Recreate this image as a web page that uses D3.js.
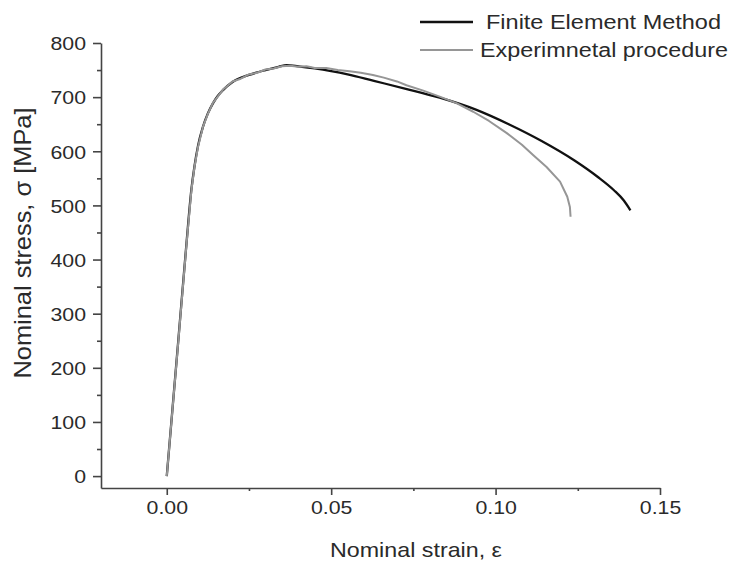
<!DOCTYPE html>
<html>
<head>
<meta charset="utf-8">
<script src="https://cdn.jsdelivr.net/npm/d3@7"></script>
<style>
    body { margin: 0; background: #fff; }
    text { font-family: "Liberation Sans", Arial, sans-serif; fill: #2a2a2a; }
</style>
</head>
<body>
<script>
// FEM curve (strain, stress in MPa)
var femStrain = [0, 0.0035, 0.0060, 0.0075, 0.0084, 0.0095, 0.0110, 0.0125, 0.0140, 0.0155,
    0.0171, 0.0200, 0.0250, 0.0300, 0.0340, 0.0365, 0.0400, 0.0450, 0.0500, 0.0550,
    0.0630, 0.0730, 0.0830, 0.0940, 0.1040, 0.1140, 0.1240, 0.1310, 0.1360, 0.1390, 0.1410];
var femStress = [0, 250, 430, 530, 571, 610, 645, 670, 688, 702,
    713, 728, 741, 750, 756, 759, 757, 753, 748, 742,
    730, 715, 699, 677, 650, 619, 583, 553, 528, 509, 491];

// experimental curve
var expStrain = [0, 0.0035, 0.0060, 0.0075, 0.0084, 0.0095, 0.0110, 0.0125, 0.0140, 0.0155,
    0.0171, 0.0185, 0.0200, 0.0225, 0.0250, 0.0275, 0.0300, 0.0325, 0.0350, 0.0375,
    0.0400, 0.0425, 0.0450, 0.0485, 0.0520, 0.0556, 0.0590, 0.0627, 0.0660, 0.0700,
    0.0729, 0.0780, 0.0830, 0.0881, 0.0932, 0.0980, 0.1033, 0.1080, 0.1114, 0.1155,
    0.1196, 0.1218, 0.1226, 0.1228];
var expStress = [0, 248, 428, 528, 570, 608, 645, 669, 689, 701,
    714, 721, 729, 734, 742, 745, 751, 753, 757, 758,
    756, 757, 754, 754, 750, 748, 745, 741, 736, 729,
    722, 712, 701, 689, 673, 656, 634, 612, 593, 571,
    544, 516, 497, 479];

var xTicks = [0, 0.05, 0.10, 0.15];
var xMinor = [0.025, 0.075, 0.125];
var yTicks = [0, 100, 200, 300, 400, 500, 600, 700, 800];
var yMinor = [50, 150, 250, 350, 450, 550, 650, 750];

var seriesNames = ["Finite Element Method", "Experimnetal procedure"];
var seriesColors = ["#111", "#969696"];

function init() {
    var w = 731;
    var h = 561;

    var svg = d3.select("body")
        .append("svg")
        .attr("width", w)
        .attr("height", h);

    var x = d3.scaleLinear()
        .domain([-0.02, 0.15])
        .range([101, 660]);

    var y = d3.scaleLinear()
        .domain([-22, 800])
        .range([488, 43]);

    // minor ticks first
    svg.append("g")
        .attr("transform", "translate(0,488)")
        .call(d3.axisBottom(x).tickValues(xMinor).tickSize(3).tickSizeOuter(0).tickFormat(""))
        .call(function (g) { g.select(".domain").remove(); });

    svg.append("g")
        .attr("transform", "translate(101,0)")
        .call(d3.axisLeft(y).tickValues(yMinor).tickSize(4).tickSizeOuter(0).tickFormat(""))
        .call(function (g) { g.select(".domain").remove(); });

    var xAxis = svg.append("g")
        .attr("transform", "translate(0,488)")
        .call(d3.axisBottom(x)
            .tickValues(xTicks)
            .tickSize(7)
            .tickSizeOuter(0)
            .tickPadding(6)
            .tickFormat(d3.format(".2f")));

    var yAxis = svg.append("g")
        .attr("transform", "translate(101,0)")
        .call(d3.axisLeft(y)
            .tickValues(yTicks)
            .tickSize(8)
            .tickSizeOuter(0)
            .tickPadding(7));

    svg.selectAll(".tick line, .domain")
        .attr("stroke", "#444")
        .attr("stroke-width", 1.6);

    svg.selectAll(".tick text")
        .attr("font-size", 19)
        .style("font-family", "'Liberation Sans', Arial, sans-serif")
        .attr("fill", "#2a2a2a")
        .each(function () {
            var t = d3.select(this);
            t.attr("textLength", this.getComputedTextLength() * 1.12)
                .attr("lengthAdjust", "spacingAndGlyphs");
        });

    yAxis.selectAll(".tick text").attr("dy", "0.36em");

    var line = d3.line()
        .x(function (d) { return x(d[0]); })
        .y(function (d) { return y(d[1]); });

    var expData = d3.zip(expStrain, expStress);
    var femData = d3.zip(femStrain, femStress);

    // FEM underneath, experiment drawn over it
    svg.append("path")
        .datum(femData)
        .attr("fill", "none")
        .attr("stroke", seriesColors[0])
        .attr("stroke-width", 2.3)
        .attr("stroke-linejoin", "round")
        .attr("d", line.curve(d3.curveMonotoneX));

    svg.append("path")
        .datum(expData)
        .attr("fill", "none")
        .attr("stroke", seriesColors[1])
        .attr("stroke-width", 2)
        .attr("stroke-linejoin", "round")
        .attr("d", line.curve(d3.curveLinear));

    // axis titles
    svg.append("text")
        .attr("x", 330)
        .attr("y", 557)
        .attr("font-size", 21)
        .attr("textLength", 172)
        .attr("lengthAdjust", "spacingAndGlyphs")
        .text("Nominal strain, ε");

    svg.append("text")
        .attr("transform", "translate(31,243) rotate(-90)")
        .attr("text-anchor", "middle")
        .attr("font-size", 24)
        .attr("textLength", 271)
        .attr("lengthAdjust", "spacingAndGlyphs")
        .text("Nominal stress, σ [MPa]");

    // legend
    var legendY = [22, 50];
    var legendX = [486, 480];
    var legendW = [235, 248];
    var legendSW = [2.6, 2];
    var legend = svg.append("g");
    legend.selectAll("line")
        .data(seriesNames)
        .enter()
        .append("line")
        .attr("x1", 420)
        .attr("x2", 473)
        .attr("y1", function (d, i) { return legendY[i]; })
        .attr("y2", function (d, i) { return legendY[i]; })
        .attr("stroke", function (d, i) { return seriesColors[i]; })
        .attr("stroke-width", function (d, i) { return legendSW[i]; });

    legend.selectAll("text")
        .data(seriesNames)
        .enter()
        .append("text")
        .attr("x", function (d, i) { return legendX[i]; })
        .attr("y", function (d, i) { return legendY[i] + 7; })
        .attr("font-size", 20)
        .attr("textLength", function (d, i) { return legendW[i]; })
        .attr("lengthAdjust", "spacingAndGlyphs")
        .text(function (d) { return d; });
}

window.onload = init;
</script>
</body>
</html>
